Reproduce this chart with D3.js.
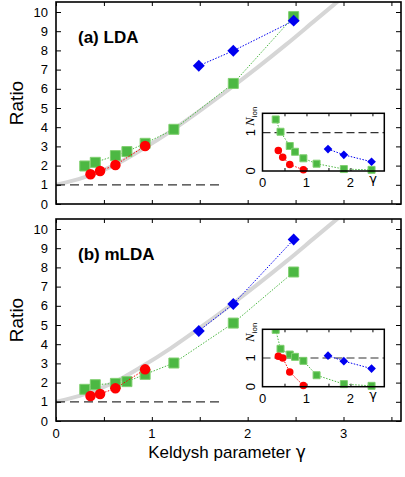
<!DOCTYPE html>
<html>
<head>
<meta charset="utf-8">
<script src="https://cdn.jsdelivr.net/npm/d3@7"></script>
<style>
  body { margin: 0; background: #fff; }
  svg { display: block; font-family: "Liberation Sans", Arial, sans-serif; }
</style>
</head>
<body>
<svg width="405" height="477"></svg>
<script>
// ---- data ----
var gammaRed   = [0.36, 0.46, 0.62, 0.93];
var gammaGreen = [0.30, 0.41, 0.62, 0.74, 0.93, 1.23, 1.85, 2.48];
var gammaBlue  = [1.49, 1.85, 2.48];

// (a) LDA ratio
var ldaRed   = [1.55, 1.72, 2.03, 3.02];
var ldaGreen = [1.98, 2.17, 2.52, 2.73, 3.16, 3.89, 6.28, 9.76];
var ldaBlue  = [7.20, 7.98, 9.55];
// (a) LDA N_ion (inset)
var ldaIonRed   = [0.53, 0.36, 0.17, 0.03];
var ldaIonGreen = [1.34, 1.02, 0.65, 0.50, 0.33, 0.19, 0.05, 0.03];
var ldaIonBlue  = [0.57, 0.42, 0.24];

// (b) mLDA ratio
var mldaRed   = [1.30, 1.41, 1.70, 2.69];
var mldaGreen = [1.65, 1.89, 1.96, 2.05, 2.43, 3.02, 5.10, 7.76];
var mldaBlue  = [4.69, 6.09, 9.45];
// (b) mLDA N_ion (inset)
var mldaIonRed   = [1.06, 1.00, 0.51, 0.04];
var mldaIonGreen = [1.98, 1.32, 1.12, 1.04, 0.90, 0.40, 0.09, 0.03];
var mldaIonBlue  = [1.08, 0.89, 0.63];

// grey reference curve
var curveG = [0, 0.3, 0.6, 0.9, 1.2, 1.5, 1.8, 2.1, 2.4, 2.7, 3.0];
var curveR = [1.0, 1.4, 2.0, 2.85, 3.8, 4.85, 5.95, 7.1, 8.3, 9.55, 10.8];

var xTicks = [0, 1, 2, 3];
var yTicks = [0, 1, 2, 3, 4, 5, 6, 7, 8, 9, 10];

var colors = {red: "#ff0000", green: "#4cb843", blue: "#0000f0"};

var svg = d3.select("svg");

var x = d3.scaleLinear().domain([0, 3.6]).range([56, 401]);

var panels = [
  {label: "(a) LDA", top: 2, bottom: 204, showX: false,
   red: ldaRed, green: ldaGreen, blue: ldaBlue,
   inset: {top: 113.3, bottom: 171, ymax: 1.5, red: ldaIonRed, green: ldaIonGreen, blue: ldaIonBlue}},
  {label: "(b) mLDA", top: 219, bottom: 421, showX: true,
   red: mldaRed, green: mldaGreen, blue: mldaBlue,
   inset: {top: 329.3, bottom: 386.7, ymax: 2.0, red: mldaIonRed, green: mldaIonGreen, blue: mldaIonBlue}}
];

function pairs(xs, ys) {
  return xs.map(function(d, i) { return [d, ys[i]]; });
}

// draw markers + dotted connecting line for one series
function drawSeries(g, xs, ys, sx, sy, kind, size) {
  var line = d3.line()
      .x(function(d) { return sx(d[0]); })
      .y(function(d) { return sy(d[1]); });
  var pts = pairs(xs, ys);
  g.append("path")
      .attr("d", line(pts))
      .attr("fill", "none")
      .attr("stroke", colors[kind])
      .attr("stroke-width", 1)
      .attr("stroke-dasharray", "1.5,1.5");
  var sym = kind == "red" ? d3.symbolCircle : kind == "green" ? d3.symbolSquare : d3.symbolDiamond2;
  var area = kind == "red" ? Math.PI * size * size / 4 : kind == "green" ? size * size : size * size * 0.75;
  g.selectAll(null)
    .data(pts)
    .enter().append("path")
      .attr("transform", function(d) { return "translate(" + sx(d[0]) + "," + sy(d[1]) + ")"; })
      .attr("d", d3.symbol().type(sym).size(area))
      .attr("fill", colors[kind])
      .attr("stroke", kind == "green" ? "#7fcf6f" : "none")
      .attr("stroke-width", 1);
}

panels.forEach(function(p, pi) {
  var y = d3.scaleLinear().domain([0, (p.bottom - p.top) / 19.2]).range([p.bottom, p.top]);
  var g = svg.append("g");

  var clipId = "clip" + pi;
  svg.append("clipPath").attr("id", clipId)
    .append("rect")
      .attr("x", x.range()[0]).attr("y", p.top)
      .attr("width", x.range()[1] - x.range()[0]).attr("height", p.bottom - p.top);

  // grey curve
  var smooth = d3.line().curve(d3.curveMonotoneX)
      .x(function(d) { return x(d[0]); })
      .y(function(d) { return y(d[1]); });
  g.append("path")
      .attr("clip-path", "url(#" + clipId + ")")
      .attr("d", smooth(pairs(curveG, curveR)))
      .attr("fill", "none")
      .attr("stroke", "#d6d6d6")
      .attr("stroke-width", 4);

  // dashed line at ratio = 1
  g.append("line")
      .attr("x1", x(0)).attr("x2", x(1.75))
      .attr("y1", y(1)).attr("y2", y(1))
      .attr("stroke", "#333")
      .attr("stroke-width", 1.2)
      .attr("stroke-dasharray", "9,5");

  // axes with inward ticks on all four sides
  var minor = d3.range(0, 3.6, 0.5);
  g.append("g")
      .attr("transform", "translate(0," + p.bottom + ")")
      .call(d3.axisTop(x).tickValues(minor).tickSize(4).tickFormat(""));
  g.append("g")
      .attr("transform", "translate(0," + p.top + ")")
      .call(d3.axisBottom(x).tickValues(minor).tickSize(4).tickFormat(""));
  g.append("g")
      .attr("transform", "translate(" + x.range()[0] + ",0)")
      .call(d3.axisRight(y).tickValues(yTicks).tickSize(5).tickFormat(""));
  g.append("g")
      .attr("transform", "translate(" + x.range()[1] + ",0)")
      .call(d3.axisLeft(y).tickValues(yTicks).tickSize(5).tickFormat(""));
  g.selectAll(".domain").remove();
  g.selectAll(".tick line").attr("stroke", "#000").attr("stroke-width", 1);

  g.append("rect")
      .attr("x", x.range()[0]).attr("y", p.top)
      .attr("width", x.range()[1] - x.range()[0]).attr("height", p.bottom - p.top)
      .attr("fill", "none").attr("stroke", "#000").attr("stroke-width", 1.6);

  // y tick labels
  g.selectAll(null)
    .data(yTicks)
    .enter().append("text")
      .attr("x", 48)
      .attr("y", function(d) { return y(d); })
      .attr("dy", "0.36em")
      .attr("text-anchor", "end")
      .attr("font-size", 13)
      .text(function(d) { return d; });

  if (p.showX) {
    g.selectAll(null)
      .data(xTicks)
      .enter().append("text")
        .attr("x", function(d) { return x(d); })
        .attr("y", 438)
        .attr("text-anchor", "middle")
        .attr("font-size", 13)
        .text(function(d) { return d; });
  }

  // y label
  g.append("text")
      .attr("transform", "translate(23," + (p.top + p.bottom) / 2 + ") rotate(-90)")
      .attr("text-anchor", "middle")
      .attr("font-size", 19)
      .text("Ratio");

  // panel label
  g.append("text")
      .attr("x", 78)
      .attr("y", p.top + 41)
      .attr("font-size", 17)
      .attr("font-weight", "bold")
      .text(p.label);

  drawSeries(g, gammaGreen, p.green, x, y, "green", 10);
  drawSeries(g, gammaRed, p.red, x, y, "red", 10.5);
  drawSeries(g, gammaBlue, p.blue, x, y, "blue", 11);

  // ---- inset ----
  var ins = p.inset;
  var ix = d3.scaleLinear().domain([0, 2.77]).range([262.5, 384.3]);
  var iy = d3.scaleLinear().domain([0, ins.ymax]).range([ins.bottom, ins.top]);
  var gi = svg.append("g");

  gi.append("rect")
      .attr("x", ix.range()[0]).attr("y", ins.top)
      .attr("width", ix.range()[1] - ix.range()[0]).attr("height", ins.bottom - ins.top)
      .attr("fill", "#fff");

  gi.append("line")
      .attr("x1", ix.range()[0]).attr("x2", ix.range()[1])
      .attr("y1", iy(1)).attr("y2", iy(1))
      .attr("stroke", "#333")
      .attr("stroke-width", 1.2)
      .attr("stroke-dasharray", "8,4");

  var iminor = [0.5, 1, 1.5, 2, 2.5];
  gi.append("g")
      .attr("transform", "translate(0," + ins.bottom + ")")
      .call(d3.axisTop(ix).tickValues(iminor).tickSize(3).tickFormat(""));
  gi.append("g")
      .attr("transform", "translate(0," + ins.top + ")")
      .call(d3.axisBottom(ix).tickValues(iminor).tickSize(3).tickFormat(""));
  gi.selectAll(".domain").remove();
  gi.selectAll(".tick line").attr("stroke", "#000");

  var giClip = "iclip" + pi;
  svg.append("clipPath").attr("id", giClip)
    .append("rect")
      .attr("x", ix.range()[0] - 6).attr("y", ins.top)
      .attr("width", ix.range()[1] - ix.range()[0] + 12).attr("height", ins.bottom - ins.top + 6);

  var gs = gi.append("g").attr("clip-path", "url(#" + giClip + ")");
  drawSeries(gs, gammaGreen, ins.green, ix, iy, "green", 7);
  drawSeries(gs, gammaRed, ins.red, ix, iy, "red", 7.5);
  drawSeries(gs, gammaBlue, ins.blue, ix, iy, "blue", 8);

  gi.append("rect")
      .attr("x", ix.range()[0]).attr("y", ins.top)
      .attr("width", ix.range()[1] - ix.range()[0]).attr("height", ins.bottom - ins.top)
      .attr("fill", "none").attr("stroke", "#000").attr("stroke-width", 1.5);

  gi.selectAll(null)
    .data([0, 1, 2])
    .enter().append("text")
      .attr("x", function(d) { return ix(d); })
      .attr("y", ins.bottom + 16)
      .attr("text-anchor", "middle")
      .attr("font-size", 13)
      .text(function(d) { return d; });
  gi.append("text")
      .attr("x", 373)
      .attr("y", ins.bottom + 12)
      .attr("text-anchor", "middle")
      .attr("font-size", 13)
      .attr("font-family", "DejaVu Sans, sans-serif")
      .text("γ");

  gi.selectAll(null)
    .data([0, 1])
    .enter().append("text")
      .attr("transform", function(d) { return "translate(255," + iy(d) + ") rotate(-90)"; })
      .attr("text-anchor", "middle")
      .attr("font-size", 13)
      .text(function(d) { return d; });

  var nl = gi.append("text")
      .attr("transform", "translate(254," + (ins.top + 3) + ") rotate(-90)")
      .attr("text-anchor", "middle")
      .attr("font-size", 13);
  nl.append("tspan").attr("font-family", "Liberation Serif, serif").attr("font-style", "italic").text("N");
  nl.append("tspan").attr("font-size", 8).attr("dy", 3).text("ion");
});

// x label
var xl = svg.append("text")
    .attr("x", 227)
    .attr("y", 458)
    .attr("text-anchor", "middle")
    .attr("font-size", 17)
    .text("Keldysh parameter ");
xl.append("tspan")
    .attr("font-family", "DejaVu Sans, sans-serif")
    .text("γ");
</script>
</body>
</html>
